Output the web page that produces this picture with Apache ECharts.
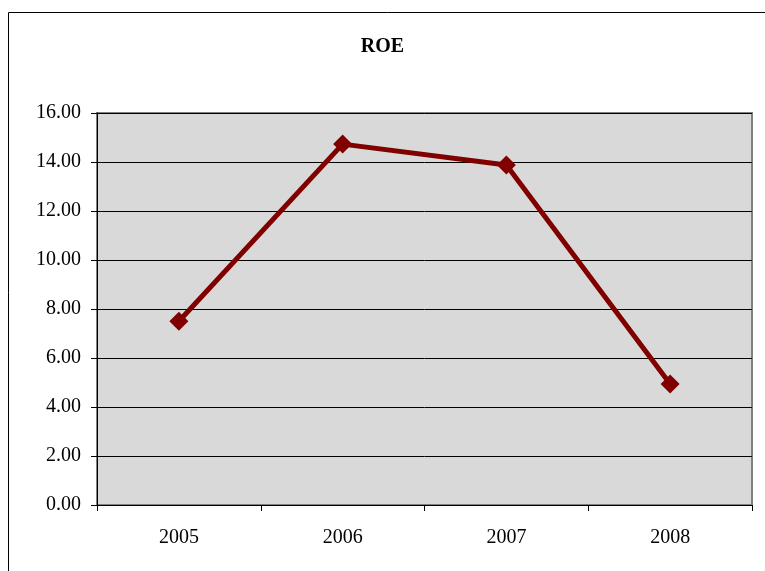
<!DOCTYPE html>
<html><head><meta charset="utf-8">
<script src="https://cdn.jsdelivr.net/npm/echarts@6/dist/echarts.min.js"></script>
<style>html,body{margin:0;padding:0;background:#fff}#c{width:765px;height:571px}</style>
</head><body><div id="c"></div>
<script>
const categories = ['2005', '2006', '2007', '2008'];
const roeValues = [7.50, 14.73, 13.88, 4.94];
const titleText = 'ROE';

const chart = echarts.init(document.getElementById('c'));
const font = '"Liberation Serif", "Times New Roman", serif';
chart.setOption({
  animation: false,
  backgroundColor: '#ffffff',
  title: {
    text: titleText, left: 'center', top: 32,
    textStyle: { fontFamily: font, fontWeight: 'bold', fontSize: 20, color: '#000' }
  },
  graphic: [{
    type: 'rect', z: -10,
    shape: { x: 8.5, y: 12.5, width: 800, height: 600 },
    style: { fill: 'none', stroke: '#000', lineWidth: 1 }
  }],
  grid: {
    left: 97, right: 13, top: 113, bottom: 66,
    show: true, backgroundColor: '#d9d9d9', borderColor: '#808080', borderWidth: 2
  },
  xAxis: {
    type: 'category', data: categories, boundaryGap: true,
    axisLine: { lineStyle: { color: '#000', width: 1 } },
    axisTick: { show: true, length: 6, inside: false, lineStyle: { color: '#000' } },
    axisLabel: { fontFamily: font, fontSize: 20, color: '#000', margin: 23 }
  },
  yAxis: {
    type: 'value', min: 0, max: 16, interval: 2,
    axisLine: { show: true, lineStyle: { color: '#000', width: 1 } },
    axisTick: { show: true, length: 6, lineStyle: { color: '#000' } },
    axisLabel: { fontFamily: font, fontSize: 20, color: '#000', margin: 16,
      formatter: v => v.toFixed(2) },
    splitLine: { show: true, lineStyle: { color: '#000', width: 1 } }
  },
  series: [{
    type: 'line', data: roeValues,
    lineStyle: { color: '#800000', width: 5 },
    itemStyle: { color: '#800000' },
    symbol: 'path://M0,-1L1,0L0,1L-1,0Z', symbolSize: 19,
    showAllSymbol: true
  }]
});
</script></body></html>
